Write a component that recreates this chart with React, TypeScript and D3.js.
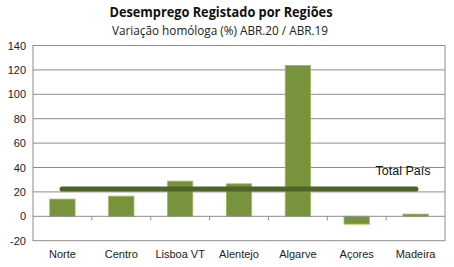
import React from "react";
import * as d3 from "d3";

const categories = ["Norte", "Centro", "Lisboa VT", "Alentejo", "Algarve", "Açores", "Madeira"];
const values = [14.1, 16.5, 28.8, 26.6, 123.6, -6.4, 1.8];
const totalPais = 22.3;
const yTicks = [-20, 0, 20, 40, 60, 80, 100, 120, 140];
const title = "Desemprego Registado por Regiões";
const subtitle = "Variação homóloga (%)  ABR.20 / ABR.19";
const totalLabel = "Total  País";

const W = 454, H = 267;
const left = 33, right = 445, top = 45.5, bottom = 240.7;

export default function App() {
  const x = d3.scaleBand<string>().domain(categories).range([left, right]).paddingInner(0.57).paddingOuter(0.285);
  const band = d3.scaleBand<string>().domain(categories).range([left, right]);
  const y = d3.scaleLinear().domain([-20, 140]).range([bottom, top]);
  const y0 = y(0);
  return (
    <svg width={W} height={H} style={{ position: "absolute", left: 0, top: 0, background: "#fff" }}>
      <text x={221} y={17} textAnchor="middle" fontFamily="'Open Sans', sans-serif" fontWeight="bold" fontSize={14.5} fill="#111" textLength={223} lengthAdjust="spacingAndGlyphs">{title}</text>
      <text x={220} y={34.5} textAnchor="middle" fontFamily="'Open Sans', sans-serif" fontSize={12} fill="#222" textLength={216} lengthAdjust="spacingAndGlyphs">{subtitle}</text>
      {yTicks.map(t => (
        <g key={t}>
          {t !== 0 && t !== -20 && t !== 140 && (
            <line x1={left} x2={right} y1={y(t)} y2={y(t)} stroke="#8c8c8c" strokeWidth={1} />
          )}
          <text x={26} y={y(t) + 4} textAnchor="end" fontFamily="'Liberation Sans', Arial, sans-serif" fontSize={11} fill="#222">{t}</text>
        </g>
      ))}
      {categories.map((c, i) => {
        const v = values[i];
        const yt = y(Math.max(0, v));
        const h = Math.abs(y(v) - y0);
        return (
          <rect key={c} x={x(c)} y={yt} width={x.bandwidth()} height={h} fill="#77933C" stroke="#9bbb59" strokeWidth={0.8} />
        );
      })}
      <line x1={left} x2={right} y1={y0} y2={y0} stroke="#8c8c8c" strokeWidth={1} />
      {categories.slice(1).map(c => (
        <line key={c} x1={band(c)} x2={band(c)} y1={y0} y2={y0 + 4} stroke="#8c8c8c" strokeWidth={1} />
      ))}
      <rect x={left} y={top} width={right - left} height={bottom - top} fill="none" stroke="#8c8c8c" strokeWidth={1} />
      <line x1={62} x2={416} y1={y(totalPais)} y2={y(totalPais)} stroke="#4F6228" strokeWidth={5} strokeLinecap="round" />
      <text x={375.5} y={174.5} fontFamily="'Liberation Sans', Arial, sans-serif" fontSize={12.5} fill="#111">{totalLabel}</text>
      {categories.map(c => (
        <text key={c} x={(band(c) as number) + band.bandwidth() / 2} y={258} textAnchor="middle" fontFamily="'Liberation Sans', Arial, sans-serif" fontSize={11} fill="#222">{c}</text>
      ))}
    </svg>
  );
}
